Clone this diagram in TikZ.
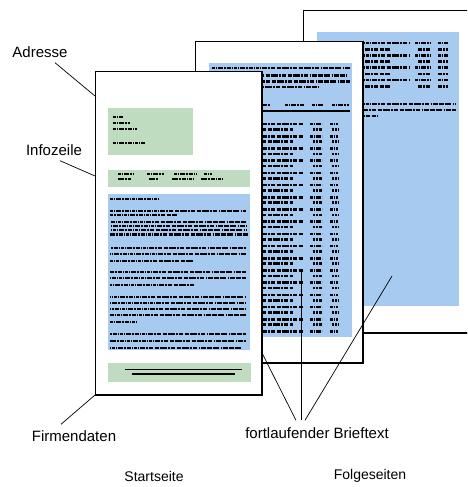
\documentclass[tikz,border=0pt]{standalone}
\usepackage{fontspec}
\setmainfont{Liberation Sans}
\usetikzlibrary{positioning}
\definecolor{bluearea}{RGB}{166,202,240}
\definecolor{greenarea}{RGB}{192,220,192}

\begin{document}
\begin{tikzpicture}[x=1pt, y=-1pt,
    page/.style={draw, fill=white, line width=0.9pt, inner sep=0pt, outer sep=0pt},
    pageshadow/.style={line width=2.8pt},
    blu/.style={fill=bluearea},
    grn/.style={fill=greenarea},
    txt/.style={line width=2.6pt, dash pattern=on 3pt off 0.7pt on 1.5pt off 0.8pt on 5pt off 1pt on 2pt off 0.7pt on 4pt off 1.6pt on 1pt off 0.8pt},
    rule/.style={line width=1.3pt},
    leader/.style={line width=0.7pt},
    lbl/.style={inner sep=0pt, font=\fontsize{15}{18}\selectfont},
    pagecaption/.style={inner sep=0pt, font=\fontsize{14}{17}\selectfont},
    ]
    \useasboundingbox (0,0) rectangle (467,487);
    \clip (0,0) rectangle (467,487);

    % Folgeseite (hinten)
    \node[page, minimum width=177pt, minimum height=323pt] (p3) at (391.5,171.5) {};
    \draw[pageshadow] (p3.north east) -- (p3.south east) -- (p3.south west);
    \fill[blu] (317,32) rectangle (459,306);
    % Tabelle
    \foreach \i in {0,...,3} {
        \draw[txt] (322,43+12.3*\i) -- (410,43+12.3*\i);
        \draw[txt] (415,43+12.3*\i) -- (430,43+12.3*\i);
        \draw[txt] (438,43+12.3*\i) -- (448,43+12.3*\i);
        \draw[txt, dash phase=7pt] (322,49.5+12.3*\i) -- (390,49.5+12.3*\i);
        \draw[txt, dash phase=7pt] (418,49.5+12.3*\i) -- (430,49.5+12.3*\i);
        \draw[txt, dash phase=7pt] (438,49.5+12.3*\i) -- (448,49.5+12.3*\i);
    }
    % Absatz
    \foreach \y/\xe/\ph in {104/456/0, 110/456/9, 116/378/15}
        \draw[txt, dash phase=\ph pt] (322,\y) -- (\xe,\y);

    % Folgeseite (mitte)
    \node[page, minimum width=168pt, minimum height=322pt] (p2) at (279,202) {};
    \draw[pageshadow] (p2.north east) -- (p2.south east) -- (p2.south west);
    \fill[blu] (209,63) rectangle (352,337);
    % Textzeilen oben
    \foreach \y/\xe/\ph in {68/350/0, 75.5/347/11, 81.5/350/5, 87/319/17}
        \draw[txt, dash phase=\ph pt] (212,\y) -- (\xe,\y);
    % Tabellenkopf
    \draw[txt] (212,105) -- (270,105);
    \draw[txt] (285,105) -- (304,105);
    \draw[txt] (312,105) -- (323,105);
    \draw[txt] (332,105) -- (349,105);
    \draw[rule] (212,111) -- (350,111);
    % Tabellenzeilen
    \foreach \i in {0,...,17} {
        \draw[txt] (212,124+12.2*\i) -- (303,124+12.2*\i);
        \draw[txt] (310,124+12.2*\i) -- (322,124+12.2*\i);
        \draw[txt] (330,124+12.2*\i) -- (338,124+12.2*\i);
    }
    \foreach \i in {0,...,16} {
        \draw[txt, dash phase=9pt] (212,129.5+12.2*\i) -- (293,129.5+12.2*\i);
        \draw[txt, dash phase=9pt] (313,129.5+12.2*\i) -- (322,129.5+12.2*\i);
        \draw[txt, dash phase=9pt] (332,129.5+12.2*\i) -- (338,129.5+12.2*\i);
    }

    % Startseite (vorne)
    \node[page, minimum width=167pt, minimum height=324pt] (p1) at (178.5,233) {};
    \draw[pageshadow] (p1.north east) -- (p1.south east) -- (p1.south west);
    % Adressfeld
    \fill[grn] (108,108) rectangle (193,155);
    \foreach \y/\xe in {117/123, 123/130, 129/137, 143/145}
        \draw[txt, line width=2pt] (113,\y) -- (\xe,\y);
    % Infozeile
    \fill[grn] (108,170) rectangle (250,187);
    \foreach \xa/\xe in {118/133, 147/164, 174/197, 204/212}
        \draw[txt, line width=1.6pt] (\xa,174) -- (\xe,174);
    \foreach \xa/\xe in {118/131, 149/158, 172/194, 201/222}
        \draw[txt, line width=2pt, dash phase=5pt] (\xa,179) -- (\xe,179);
    % Brieftext
    \fill[blu] (108,194) rectangle (250,350);
    \draw[txt, line width=2pt] (110,199) -- (159,199);
    \foreach \y/\xe/\ph in {211/246/0, 215/177/8, 222/246/14, 226/246/3, 230/246/19,
        234.5/248/6, 248/246/11, 254/246/2, 261/193/16, 272/246/7, 278/246/13,
        285/195/1, 297/246/18, 303/246/4, 309/246/10, 315/246/15, 322/138/0,
        334/246/12, 341/246/5, 348/242/20}
        \draw[txt, dash phase=\ph pt] (110,\y) -- (\xe,\y);
    % Firmendaten
    \fill[grn] (108,363) rectangle (251,382);
    \draw[line width=1.8pt] (125,369.5) -- (242,369.5);
    \draw[line width=2pt] (132,374) -- (235,374);

    % Beschriftungen
    \node[lbl] (adr) at (40,52) {Adresse};
    \node[lbl] (info) at (54,150) {Infozeile};
    \node[lbl] (firm) at (74,436) {Firmendaten};
    \node[lbl] (brief) at (317,433) {fortlaufender Brieftext};
    \node[pagecaption] (start) at (154,476) {Startseite};
    \node[pagecaption] (folge) at (370,476) {Folgeseiten};

    % Hinweislinien
    \coordinate (adr-tip) at (95,96);
    \coordinate (info-tip) at (95,176);
    \coordinate (brief-tip1) at (262,353);
    \coordinate (brief-tip2) at (301,270);
    \coordinate (brief-tip3) at (392,276);
    \draw[leader] (adr.south) ++(15,5) -- (adr-tip);
    \draw[leader] (info.south) ++(6,5) -- (info-tip);
    \draw[leader] (firm.north) ++(-13,-6) -- (p1.south west);
    \draw[leader] (brief.north) ++(-21,-7) -- (brief-tip1);
    \draw[leader] (brief.north) ++(-16,-7) -- (brief-tip2);
    \draw[leader] (brief.north) ++(-12,-7) -- (brief-tip3);
\end{tikzpicture}
\end{document}
